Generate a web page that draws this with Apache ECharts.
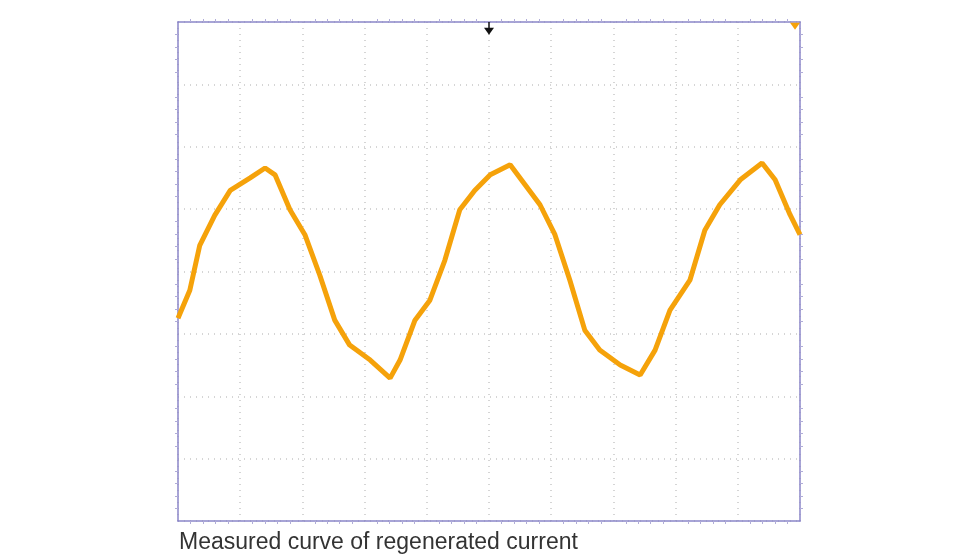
<!DOCTYPE html><html><head><meta charset="utf-8">
<script src="https://cdn.jsdelivr.net/npm/echarts@6/dist/echarts.min.js"></script>
<style>html,body{margin:0;background:#fff}#c{width:980px;height:560px}</style></head><body><div id="c"></div>
<script>
const xVals=[0,0.19,0.35,0.59,0.84,1.16,1.40,1.56,1.80,2.04,2.28,2.52,2.76,3.09,3.41,3.57,3.81,4.05,4.29,4.53,4.77,5.02,5.34,5.58,5.82,6.06,6.30,6.54,6.78,7.11,7.43,7.67,7.91,8.23,8.47,8.71,9.04,9.39,9.60,9.84,10];
const yVals=[3.25,3.70,4.42,4.90,5.30,5.50,5.66,5.55,4.99,4.59,3.94,3.22,2.82,2.58,2.29,2.58,3.22,3.54,4.18,4.99,5.30,5.55,5.71,5.39,5.07,4.59,3.86,3.06,2.74,2.50,2.34,2.74,3.38,3.86,4.66,5.07,5.47,5.74,5.47,4.91,4.59];
const caption="Measured curve of regenerated current";
const c=echarts.init(document.getElementById('c'));
function ax(max,pos,grid){return {type:'value',min:0,max:max,interval:1,position:pos,axisLabel:{show:false},
 axisLine:{show:true,onZero:false,lineStyle:{color:'#8b86c9',width:1.5}},
 axisTick:{show:false},minorTick:{show:true,splitNumber:5,length:3,inside:true,lineStyle:{color:'#b0acd8'}},
 splitLine:{show:grid,lineStyle:{color:'#c8c8c8',type:[1,5],width:1.5}}};}
function inside(a){a.minorTick.inside=true;a.axisTick.inside=true;return a;}
c.setOption({animation:false,
 grid:{left:178,right:180,top:22,bottom:39},
 xAxis:[ax(10,'bottom',true),ax(10,'top',false)],
 yAxis:[ax(8,'left',true),ax(8,'right',false)],
 title:{text:caption,left:174,top:526,textStyle:{fontFamily:'Liberation Sans',fontSize:23,fontWeight:'normal',color:'#333'}},
 series:[{type:'line',data:xVals.map((x,i)=>[x,yVals[i]]),showSymbol:false,
  lineStyle:{color:'#f5a20a',width:5},
  markPoint:{data:[
   {coord:[5,7.85],symbol:'triangle',symbolRotate:180,symbolSize:[10,7],itemStyle:{color:'#111'},label:{show:false}},
   {coord:[9.92,7.93],symbol:'triangle',symbolRotate:180,symbolSize:[10,7],itemStyle:{color:'#f5a20a'},label:{show:false}}]}},
  {type:'line',data:[[5,8],[5,7.85]],showSymbol:false,lineStyle:{color:'#111',width:1.5},silent:true}]
});
</script></body></html>
